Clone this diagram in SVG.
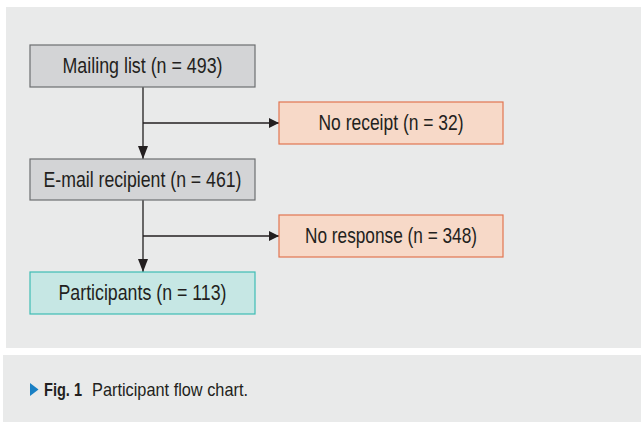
<svg xmlns="http://www.w3.org/2000/svg" width="641" height="422" viewBox="0 0 641 422">
<defs>
<style>
.bg{fill:#e9eaea}
.grey{fill:#d3d4d6;stroke:#6d6e70;stroke-width:1.2}
.orange{fill:#f7d9c8;stroke:#e27551;stroke-width:1.2}
.teal{fill:#c6e7e4;stroke:#3fbdb4;stroke-width:1.2}
.t{font-family:"Liberation Sans",Arial,sans-serif;font-size:22px;fill:#231f20;text-anchor:middle}
.conn{stroke:#231f20;stroke-width:1.3;fill:none}
.cap{font-family:"Liberation Sans",Arial,sans-serif;font-size:19px;fill:#231f20}
</style>
<marker id="ah" markerWidth="10" markerHeight="10" refX="10" refY="5" orient="auto" markerUnits="userSpaceOnUse">
<path d="M0,0 L10,5 L0,10 Z" fill="#231f20"/>
</marker>
<marker id="av" markerWidth="13" markerHeight="10" refX="13" refY="5" orient="auto" markerUnits="userSpaceOnUse">
<path d="M0,0 L13,5 L0,10 Z" fill="#231f20"/>
</marker>
</defs>
<rect width="641" height="422" fill="#ffffff"/>
<rect class="bg" x="6" y="7" width="635" height="341"/>
<rect class="bg" x="3" y="355" width="638" height="67"/>
<g id="connectors">
<path class="conn" d="M143,87 V159" marker-end="url(#av)"/>
<path class="conn" d="M143,123 H279" marker-end="url(#ah)"/>
<path class="conn" d="M143,200 V272" marker-end="url(#av)"/>
<path class="conn" d="M143,236 H279" marker-end="url(#ah)"/>
</g>
<g id="mailing">
<rect class="grey" x="30" y="45" width="225" height="42"/>
<text class="t" x="142.5" y="73" textLength="160" lengthAdjust="spacingAndGlyphs">Mailing list (n = 493)</text>
</g>
<g id="noreceipt">
<rect class="orange" x="279" y="102" width="224" height="42"/>
<text class="t" x="391" y="130" textLength="145" lengthAdjust="spacingAndGlyphs">No receipt (n = 32)</text>
</g>
<g id="recipient">
<rect class="grey" x="30" y="159" width="225" height="41"/>
<text class="t" x="142.5" y="186.5" textLength="198" lengthAdjust="spacingAndGlyphs">E-mail recipient (n = 461)</text>
</g>
<g id="noresponse">
<rect class="orange" x="279" y="215" width="224" height="42"/>
<text class="t" x="391" y="243" textLength="172" lengthAdjust="spacingAndGlyphs">No response (n = 348)</text>
</g>
<g id="participants">
<rect class="teal" x="30" y="272" width="225" height="42"/>
<text class="t" x="142.5" y="300" textLength="168" lengthAdjust="spacingAndGlyphs">Participants (n = 113)</text>
</g>
<g id="caption">
<path d="M30,383 L38.5,389.5 L30,396 Z" fill="#1a80c4"/>
<text class="cap" x="44" y="396" font-weight="bold" textLength="38" lengthAdjust="spacingAndGlyphs">Fig. 1</text>
<text class="cap" x="92" y="396" textLength="156" lengthAdjust="spacingAndGlyphs">Participant flow chart.</text>
</g>
</svg>
